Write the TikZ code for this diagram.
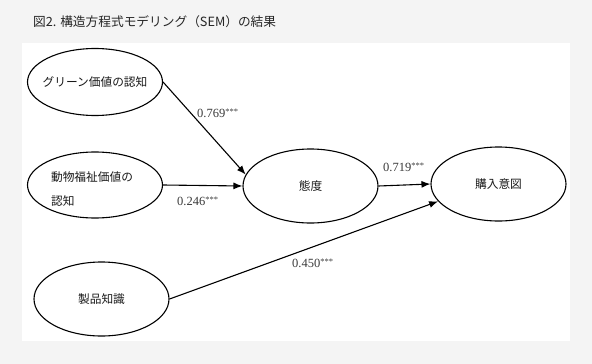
\documentclass[tikz,border=0pt]{standalone}
\usepackage{fontspec}
\setmainfont{Liberation Serif}
\newfontfamily\jpfont{Noto Sans CJK JP}
\usepackage{xcolor}
\usepackage{tikz}
\usetikzlibrary{shapes.geometric,arrows.meta}

\definecolor{pagebg}{HTML}{F4F4F4}
\definecolor{coefgray}{HTML}{3A3A3A}

\tikzset{
  construct/.style={draw, ellipse, line width=1.1pt, minimum width=135pt, minimum height=74pt, inner sep=0pt},
  cname/.style={font=\jpfont\fontsize{11.7}{24}\selectfont, text=black!90},
  coef/.style={anchor=west, inner sep=0pt, font=\fontsize{12.5}{12.5}\selectfont, text=coefgray},
  effect/.style={line width=1.1pt, -{Latex[length=9pt,width=7pt]}}
}
\newcommand{\sigstars}{\raisebox{2.2pt}{\fontsize{8.5}{8.5}\selectfont ***}}

\begin{document}
\begin{tikzpicture}[x=1pt, y=-1pt]
  % Page and panel
  \fill[pagebg] (0,0) rectangle (592,364);
  \fill[white] (22,43) rectangle (570,341);
  \useasboundingbox (0,0) rectangle (592,364);
  \node[anchor=west, inner sep=0pt, font=\jpfont\fontsize{12.7}{12.7}\selectfont, text=black!85] (title) at (33,22) {図2. 構造方程式モデリング（SEM）の結果};

  % Constructs
  \node[construct, minimum height=67pt, label={[cname]center:グリーン価値の認知}] (green) at (95,82) {};
  \node[construct, minimum height=66pt, label={[cname, align=left, xshift=-3pt, yshift=-4pt]center:{動物福祉価値の\\認知}}] (animal) at (95,185) {};
  \node[construct, minimum height=74pt, label={[cname]center:製品知識}] (prod) at (101.5,299) {};
  \node[construct, label={[cname]center:態度}] (att) at (310.5,186) {};
  \node[construct, label={[cname]center:購入意図}] (intent) at (498.5,184) {};

  % Paths
  \draw[effect] (green.east) -- (att.170);
  \draw[effect] (animal.east) -- (att.west);
  \draw[effect] (att.east) -- (intent.west);
  \draw[effect] (prod.east) -- (intent.196);

  % Coefficients
  \node[coef] (c1) at (197,113) {0.769\sigstars};
  \node[coef] (c2) at (177,201) {0.246\sigstars};
  \node[coef] (c3) at (383,167) {0.719\sigstars};
  \node[coef] (c4) at (292,263) {0.450\sigstars};
\end{tikzpicture}
\end{document}
